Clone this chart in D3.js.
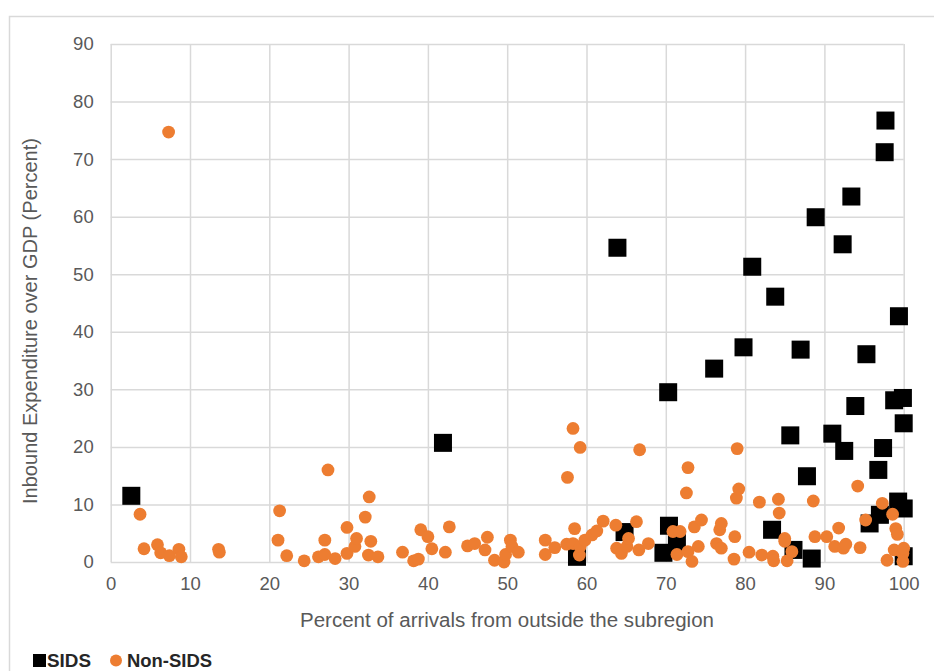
<!DOCTYPE html>
<html><head><meta charset="utf-8">
<script src="https://cdn.jsdelivr.net/npm/d3@7"></script>
<style>
html,body{margin:0;padding:0;background:#fff;}
svg{display:block;font-family:"Liberation Sans",Arial,sans-serif;}
</style></head>
<body>
<svg id="chart" width="934" height="671"></svg>
<script>
const xTicks = [0,10,20,30,40,50,60,70,80,90,100];
const yTicks = [0,10,20,30,40,50,60,70,80,90];
const seriesNames = ["SIDS","Non-SIDS"];
const xTitle = "Percent of arrivals from outside the subregion";
const yTitle = "Inbound Expenditure over GDP (Percent)";

const sidsX = [2.6,41.9,58.8,63.9,64.8,69.7,70.4,71.4,70.3,76.1,79.8,80.9,83.4,83.8,85.7,86.1,87.0,87.8,88.4,88.9,91.0,92.3,92.5,93.4,93.9,95.3,95.7,96.8,97.0,97.4,97.6,97.7,98.8,99.3,99.4,99.9,100,100,100];
const sidsY = [11.5,20.7,0.9,54.6,5.2,1.6,6.3,3.5,29.5,33.6,37.3,51.3,5.6,46.1,22.0,2.1,36.9,14.9,0.6,59.9,22.3,55.2,19.3,63.5,27.1,36.1,6.7,16.0,8.2,19.8,71.2,76.7,28.1,10.5,42.7,28.5,24.1,9.3,1.0];

const nonX = [3.7,4.2,5.9,6.3,7.3,7.4,8.6,8.9,13.6,13.7,
 21.1,21.3,22.2,24.4,26.2,27.0,27.0,27.4,28.3,29.8,29.8,30.8,31.0,32.1,32.6,32.8,32.5,33.7,
 36.8,38.2,38.8,39.1,40.0,40.5,42.2,42.7,45.0,45.9,47.2,47.5,48.4,49.6,49.8,50.4,50.6,51.4,
 54.8,54.8,56.0,57.5,57.6,58.3,58.3,58.5,59.1,59.2,59.2,59.8,60.7,61.3,62.1,63.7,63.8,64.4,65.1,65.3,66.3,66.6,66.7,67.8,
 70.9,71.8,71.4,72.8,72.6,72.8,73.3,73.6,74.1,74.5,76.4,76.8,77.0,77.0,78.6,78.7,78.9,79.0,79.2,80.5,81.8,82.1,83.5,83.6,84.2,84.3,85.0,85.0,85.3,85.9,88.6,88.8,90.3,91.3,91.8,92.4,92.7,94.2,94.5,95.2,97.3,97.9,98.6,98.8,99.0,99.2,99.9,99.9,100];
const nonY = [8.3,2.3,3.0,1.6,74.7,1.1,2.2,0.9,2.2,1.7,
 3.8,8.9,1.1,0.2,0.9,3.8,1.3,16.0,0.6,6.0,1.5,2.7,4.1,7.8,11.3,3.6,1.2,0.9,
 1.7,0.2,0.5,5.6,4.4,2.3,1.7,6.1,2.8,3.2,2.1,4.3,0.3,0.0,1.3,3.8,2.7,1.7,
 3.8,1.3,2.5,3.1,14.7,23.2,3.2,5.8,1.2,2.7,19.9,3.8,4.7,5.4,7.1,6.4,2.4,1.5,2.7,4.1,7.0,2.1,19.5,3.2,
 5.3,5.3,1.3,1.8,12.0,16.4,0.1,6.1,2.7,7.3,3.2,5.6,6.7,2.4,0.5,4.4,11.1,19.7,12.7,1.7,10.4,1.2,1.0,0.2,10.9,8.5,4.1,3.6,0.2,1.8,10.6,4.4,4.4,2.7,5.9,2.4,3.1,13.2,2.5,7.3,10.2,0.3,8.3,2.1,5.8,4.8,1.5,0.1,2.4];

const svg = d3.select("#chart");
const plot = {left:110.7, right:903.7, top:44, bottom:562};
const x = d3.scaleLinear().domain([0,100]).range([plot.left, plot.right]);
const y = d3.scaleLinear().domain([0,90]).range([plot.bottom, plot.top]);

// outer chart border
svg.append("rect").attr("x",9.5).attr("y",16.5).attr("width",1000).attr("height",1000)
  .attr("fill","none").attr("stroke","#d9d9d9").attr("stroke-width",1.5);

const grid = "#d9d9d9";
svg.append("g").attr("transform",`translate(0,${plot.bottom})`)
  .call(d3.axisBottom(x).tickValues(xTicks).tickSize(-(plot.bottom-plot.top)).tickFormat(d=>d).tickPadding(15))
  .call(g=>{g.select(".domain").remove();
    g.selectAll(".tick line").attr("stroke",grid).attr("stroke-width",1.5);
    g.selectAll(".tick text").attr("fill","#595959").attr("font-size",18.5).attr("dy","0.71em");});
svg.append("g").attr("transform",`translate(${plot.left},0)`)
  .call(d3.axisLeft(y).tickValues(yTicks).tickSize(-(plot.right-plot.left)).tickFormat(d=>d).tickPadding(17))
  .call(g=>{g.select(".domain").remove();
    g.selectAll(".tick line").attr("stroke",grid).attr("stroke-width",1.5);
    g.selectAll(".tick text").attr("fill","#595959").attr("font-size",18.5);});

// axis titles
svg.append("text").attr("x",507).attr("y",627).attr("text-anchor","middle")
  .attr("fill","#595959").attr("font-size",19.5)
  .attr("textLength",414).attr("lengthAdjust","spacingAndGlyphs").text(xTitle);
svg.append("text").attr("transform",`translate(37,321) rotate(-90)`)
  .attr("text-anchor","middle").attr("fill","#595959").attr("font-size",19.5)
  .attr("textLength",366).attr("lengthAdjust","spacingAndGlyphs").text(yTitle);

// SIDS squares
const sq = 18;
const sids = sidsX.map((v,i)=>({x:v,y:sidsY[i]}));
svg.append("g").selectAll("rect").data(sids).join("rect")
  .attr("x",d=>x(d.x)-sq/2).attr("y",d=>y(d.y)-sq/2).attr("width",sq).attr("height",sq)
  .attr("fill","#000");

// Non-SIDS circles
const non = nonX.map((v,i)=>({x:v,y:nonY[i]}));
svg.append("g").selectAll("circle").data(non).join("circle")
  .attr("cx",d=>x(d.x)).attr("cy",d=>y(d.y)).attr("r",6.4)
  .attr("fill","#ED7D31");

// legend
const lg = svg.append("g");
lg.append("rect").attr("x",33).attr("y",654).attr("width",13).attr("height",13).attr("fill","#000");
lg.append("text").attr("x",47).attr("y",667).attr("font-size",18).attr("font-weight","bold").attr("fill","#262626")
  .attr("textLength",44).attr("lengthAdjust","spacingAndGlyphs").text(seriesNames[0]);
lg.append("circle").attr("cx",116).attr("cy",660.5).attr("r",6).attr("fill","#ED7D31");
lg.append("text").attr("x",127).attr("y",667).attr("font-size",18).attr("font-weight","bold").attr("fill","#262626")
  .attr("textLength",85).attr("lengthAdjust","spacingAndGlyphs").text(seriesNames[1]);
</script>
</body></html>
